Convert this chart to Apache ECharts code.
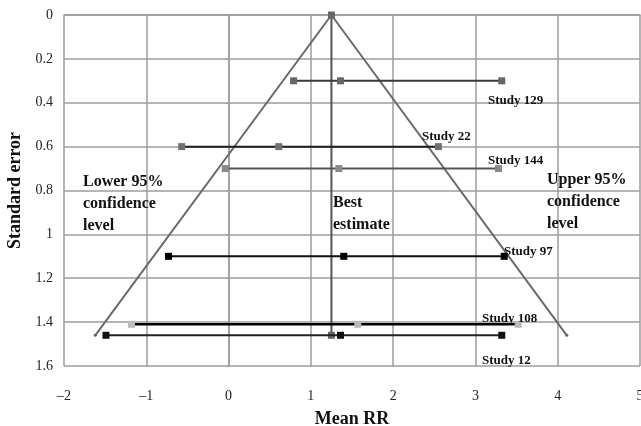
<!DOCTYPE html>
<html>
<head>
    <meta http-equiv="Content-Type" content="text/html; charset=utf-8" />
    <title>Funnel plot - Mean RR vs Standard error</title>
    <script src="https://cdn.jsdelivr.net/npm/echarts@6/dist/echarts.min.js"></script>
</head>
<body style="margin:0;padding:0;background:#ffffff;">
    <div id="main" style="width:641px;height:426px;"></div>
    <script type="text/javascript">
        // ---- data ----
        var xTicks = [-2, -1, 0, 1, 2, 3, 4, 5];
        var yTicks = [0, 0.2, 0.4, 0.6, 0.8, 1, 1.2, 1.4, 1.6];

        var studyNames = ['Study 129', 'Study 22', 'Study 144', 'Study 97', 'Study 108', 'Study 12'];
        var studySE    = [0.30, 0.60, 0.70, 1.10, 1.41, 1.46];
        var studyLow   = [0.79, -0.57, -0.04, -0.73, -1.18, -1.49];
        var studyMean  = [1.36, 0.61, 1.34, 1.40, 1.57, 1.36];
        var studyHigh  = [3.32, 2.55, 3.28, 3.35, 3.52, 3.32];

        var bestEstimate = 1.25;
        var funnelX  = [-1.62, 1.25, 4.11];
        var funnelSE = [1.46, 0, 1.46];

        // styles per study (line colour, marker colour)
        var lineColors   = ['#3a3a3a', '#1e1e1e', '#555555', '#111111', '#000000', '#222222'];
        var markerColors = ['#666666', '#707070', '#8a8a8a', '#000000', '#bbbbbb', '#111111'];

        var serif = '"Liberation Serif", "DejaVu Serif", serif';
        var gridColor = '#9c9c9c';

        var chart = echarts.init(document.getElementById('main'));

        var series = [];

        // funnel (95% confidence limits)
        series.push({
            type: 'line',
            data: funnelX.map(function (x, i) { return [x, funnelSE[i]]; }),
            symbol: 'circle',
            symbolSize: 3,
            showSymbol: true,
            itemStyle: { color: '#666666' },
            lineStyle: { color: '#6a6a6a', width: 2 },
            silent: true,
            z: 3
        });

        // best estimate vertical line
        series.push({
            type: 'line',
            data: [[bestEstimate, 0], [bestEstimate, funnelSE[0]]],
            symbol: 'rect',
            symbolSize: 7,
            itemStyle: { color: '#666666' },
            lineStyle: { color: '#555555', width: 2 },
            silent: true,
            z: 3
        });

        for (var i = 0; i < studyNames.length; i++) {
            series.push({
                name: studyNames[i],
                type: 'line',
                data: [[studyLow[i], studySE[i]], [studyMean[i], studySE[i]], [studyHigh[i], studySE[i]]],
                symbol: 'rect',
                symbolSize: 7,
                itemStyle: { color: markerColors[i] },
                lineStyle: { color: lineColors[i], width: i == 4 ? 2.5 : 2 },
                silent: true,
                z: 4
            });
        }

        function txt(text, left, top, size) {
            return {
                type: 'text', left: left, top: top, z: 10,
                style: { text: text, font: 'bold ' + size + 'px ' + serif, fill: '#111111', lineHeight: 22 }
            };
        }

        var option = {
            backgroundColor: '#ffffff',
            animation: false,
            grid: { left: 64, right: 1, top: 15, bottom: 60, outerBoundsMode: 'none', containLabel: false },
            xAxis: {
                type: 'value',
                min: xTicks[0],
                max: xTicks[xTicks.length - 1],
                interval: 1,
                name: 'Mean RR',
                nameLocation: 'middle',
                nameGap: 44,
                nameTextStyle: { fontFamily: serif, fontWeight: 'bold', fontSize: 18, color: '#111' },
                axisLine: { show: true, lineStyle: { color: gridColor, width: 1.5 } },
                axisTick: { show: false },
                splitLine: { show: true, lineStyle: { color: gridColor, width: 1.5 } },
                axisLabel: {
                    margin: 23, fontFamily: serif, fontSize: 14, color: '#222',
                    formatter: function (v) { return String(v).replace('-', '\u2013'); }
                }
            },
            yAxis: {
                type: 'value',
                inverse: true,
                min: yTicks[0],
                max: yTicks[yTicks.length - 1],
                interval: 0.2,
                name: 'Standard error',
                nameLocation: 'middle',
                nameRotate: 90,
                nameGap: 37,
                nameTextStyle: { fontFamily: serif, fontWeight: 'bold', fontSize: 18, color: '#111' },
                axisLine: { show: true, lineStyle: { color: gridColor, width: 1.5 } },
                axisTick: { show: true, length: 3, lineStyle: { color: gridColor } },
                splitLine: { show: true, lineStyle: { color: gridColor, width: 1.5 } },
                axisLabel: {
                    margin: 11, fontFamily: serif, fontSize: 14, color: '#222',
                    formatter: function (v) { return String(Math.round(v * 10) / 10); }
                }
            },
            graphic: [
                txt('Study 129', 488, 90, 13),
                txt('Study 22', 422, 126, 13),
                txt('Study 144', 488, 150, 13),
                txt('Study 97', 504, 241, 13),
                txt('Study 108', 482, 308, 13),
                txt('Study 12', 482, 350, 13),
                txt('Lower 95%\nconfidence\nlevel', 83, 171, 16),
                txt('Best\nestimate', 333, 192, 16),
                txt('Upper 95%\nconfidence\nlevel', 547, 169, 16)
            ],
            series: series
        };

        chart.setOption(option);
    </script>
</body>
</html>
